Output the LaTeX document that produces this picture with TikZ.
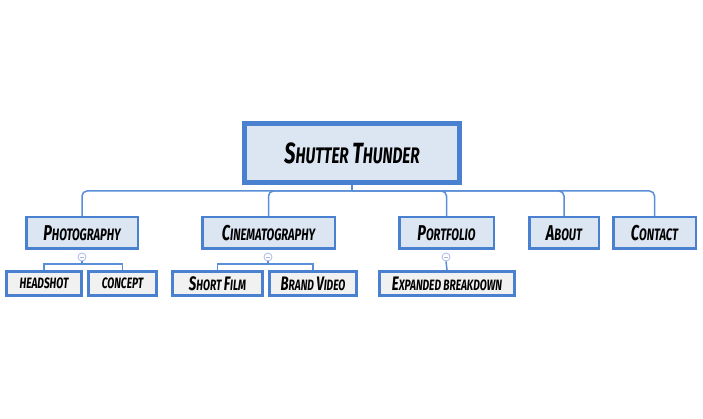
\documentclass[tikz,border=0pt]{standalone}
\usepackage{graphicx}
\usepackage{fontspec}
\newfontfamily\hfont{Fira Sans}[FakeStretch=0.68]
\definecolor{bordb}{HTML}{4A80D0}
\definecolor{lineb}{HTML}{5A8ED8}
\definecolor{fillb}{HTML}{DCE6F2}
\definecolor{fillg}{HTML}{F1F1F1}
\definecolor{circb}{HTML}{A9B8E8}
\newcommand\BC[1]{\scalebox{1.3}{#1}}
\begin{document}
\begin{tikzpicture}[x=1pt,y=-1pt,
  mainbox/.style={draw=bordb,fill=fillb,line width=5pt,minimum width=215pt,minimum height=59pt,inner sep=0pt,font=\hfont\bfseries\itshape\fontsize{22.5}{24}\selectfont},
  lone/.style={draw=bordb,fill=fillb,line width=2.5pt,minimum height=31.5pt,inner sep=0pt,font=\hfont\bfseries\itshape\fontsize{16.5}{18}\selectfont},
  ltwo/.style={draw=bordb,fill=fillg,line width=3pt,minimum height=24pt,inner sep=0pt,font=\hfont\bfseries\itshape\fontsize{15}{16}\selectfont},
  conn/.style={draw=lineb,line width=1.5pt},
  minusc/.style={circle,draw=circb,fill=white,line width=0.8pt,minimum size=8pt,inner sep=0pt},
]
\useasboundingbox (0,0) rectangle (703,419);
\fill[white] (0,0) rectangle (703,419);

\coordinate (rj) at (352,191);
\coordinate (j1) at (82,264);
\coordinate (j2) at (268,264);

\node[mainbox] (root) at (352,153) {\BC{S}HUTTER \BC{T}HUNDER};

\node[lone,minimum width=111.5pt] (photo) at (82,233) {\BC{P}HOTOGRAPHY};
\node[lone,minimum width=132.5pt] (cine) at (268.5,233) {\BC{C}INEMATOGRAPHY};
\node[lone,minimum width=94.5pt] (port) at (446.5,233) {\BC{P}ORTFOLIO};
\node[lone,minimum width=69.5pt] (about) at (564,233) {\BC{A}BOUT};
\node[lone,minimum width=82.5pt] (cont) at (654.5,233) {\BC{C}ONTACT};

\node[ltwo,minimum width=75pt] (head) at (44,283.5) {HEADSHOT};
\node[ltwo,minimum width=68pt] (conc) at (122.5,283.5) {CONCEPT};
\node[ltwo,minimum width=90pt] (short) at (217.5,283.5) {\BC{S}HORT \BC{F}ILM};
\node[ltwo,minimum width=87pt] (brand) at (313,283.5) {\BC{B}RAND \BC{V}IDEO};
\node[ltwo,minimum width=135pt] (exp) at (447,283.5) {\BC{E}XPANDED BREAKDOWN};

\node[minusc] (c1) at (82,257) {};
\node[minusc] (c2) at (268,257) {};
\node[minusc] (c3) at (446,257) {};
\foreach \c in {c1,c2,c3}{\draw[circb!80!black!70,line width=0.8pt] ([xshift=-2pt]\c.center) -- ([xshift=2pt]\c.center);}

\draw[conn] (root.south) -- (rj);
\draw[conn,rounded corners=5pt] (rj) -| (photo.north);
\draw[conn,rounded corners=5pt] (rj) -| (cine.north);
\draw[conn,rounded corners=5pt] (rj) -| (port.north);
\draw[conn,rounded corners=5pt] (rj) -| (about.north);
\draw[conn,rounded corners=5pt] (rj) -| (cont.north);

\draw[conn] (c1.south) -- (j1);
\draw[conn] (j1) -| (head.north);
\draw[conn] (j1) -| (conc.north);
\draw[conn] (c2.south) -- (j2);
\draw[conn] (j2) -| (short.north);
\draw[conn] (j2) -| (brand.north);
\draw[conn] (c3.south) -- (exp.north);
\end{tikzpicture}
\end{document}
